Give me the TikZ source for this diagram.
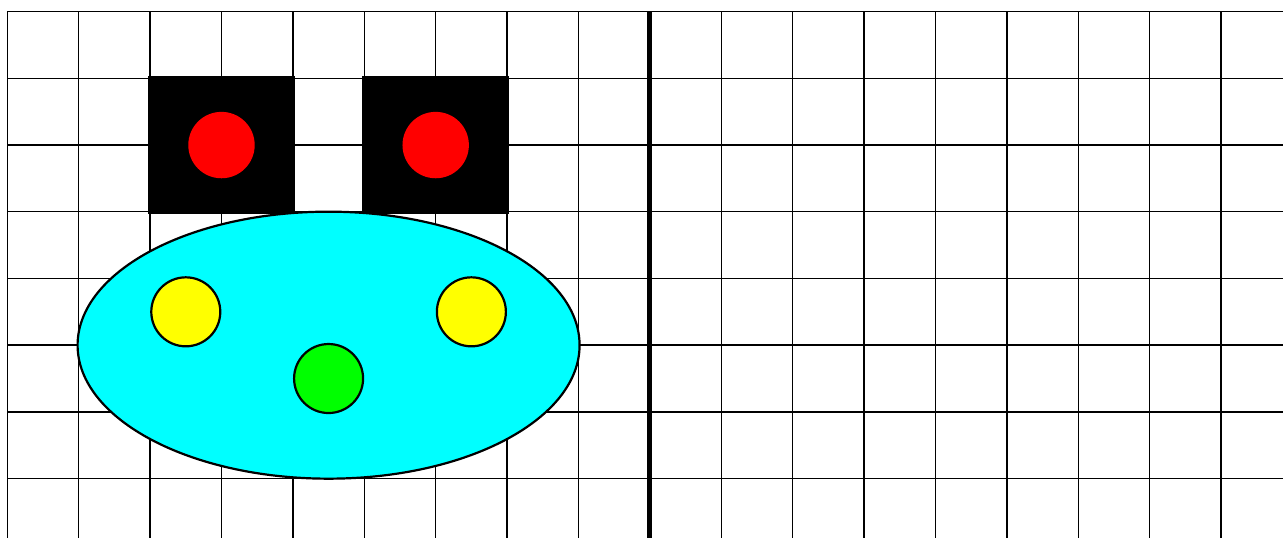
\documentclass[tikz,border=0pt]{standalone}
\usepackage{tikz}
\definecolor{facecyan}{RGB}{0,255,255}
\definecolor{cheekyellow}{RGB}{255,255,0}
\definecolor{nosegreen}{RGB}{0,255,0}
\definecolor{pupilred}{RGB}{255,0,0}
\tikzset{
  gridline/.style={draw=black, line width=0.7pt},
  divider/.style={draw=black, line width=2.6pt},
  socket/.style={fill=black, draw=black, line width=2.35pt},
  pupil/.style={fill=pupilred},
  face/.style={fill=facecyan, draw=black, line width=1.1pt},
  cheek/.style={fill=cheekyellow, draw=black, line width=1.1pt},
  nosedot/.style={fill=nosegreen, draw=black, line width=1.1pt}
}

\begin{document}
\begin{tikzpicture}[x=35.7pt, y=-33.35pt]
\useasboundingbox (-0.102,-0.175) rectangle (17.867,7.89);
\clip (-0.102,-0.175) rectangle (17.867,7.89);
% grid
\foreach \i in {0,...,17} \draw[gridline] (\i,0) -- (\i,7.89);
\foreach \j in {0,...,7} \draw[gridline] (0,\j) -- (17.867,\j);
\draw[divider] (9,0) -- (9,7.89);
% face
\draw[face] (4.5,5) ellipse [x radius=125.5pt, y radius=66.75pt];
\draw[socket] (2,1) rectangle (4,3);
\draw[socket] (5,1) rectangle (7,3);
\fill[pupil] (3,2) circle [radius=16.6pt];
\fill[pupil] (6,2) circle [radius=16.6pt];
\draw[cheek] (2.5,4.5) circle [radius=17.25pt];
\draw[cheek] (6.5,4.5) circle [radius=17.25pt];
\draw[nosedot] (4.5,5.5) circle [radius=17.25pt];
\end{tikzpicture}
\end{document}
